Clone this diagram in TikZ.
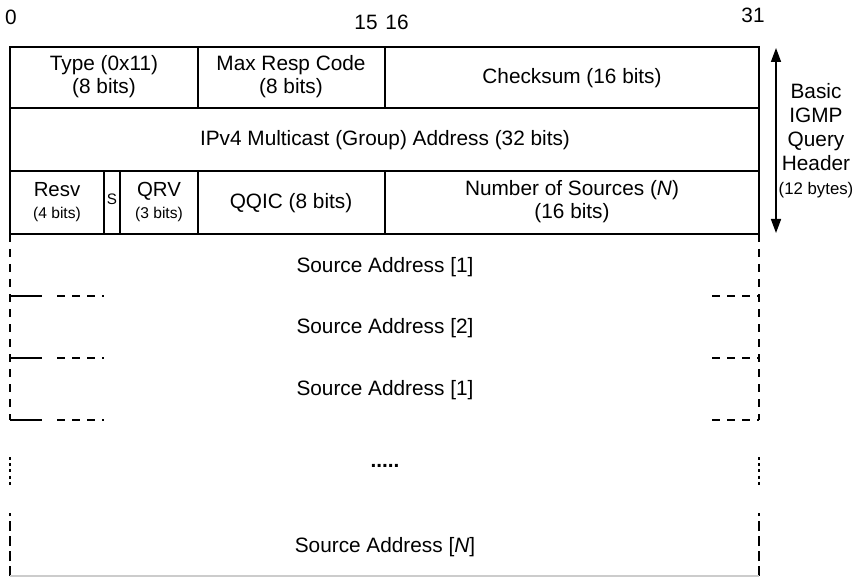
\documentclass[tikz,border=0pt]{standalone}
\usepackage{fontspec}
\setmainfont{Liberation Sans}
\usetikzlibrary{arrows.meta}

\tikzset{
  fld/.style={font=\fontsize{10.4}{11.5}\selectfont, align=center, inner sep=0.75pt},
  sfld/.style={font=\fontsize{10.2}{10.6}\selectfont, align=center, inner sep=0.75pt},
  cut/.style={line width=0.75pt, dash pattern={on 4pt off 3.5pt}},
}
\newcommand{\bitsz}{\fontsize{7.8}{9}\selectfont}

\begin{document}
\begin{tikzpicture}[x=0.5pt,y=0.5pt,yscale=-1,xscale=1]
\path[use as bounding box] (0,0) rectangle (867,577);

% Bit numbers
\node[fld] (b0) at (11,17) {0};
\node[fld] (b15) at (366,22) {15};
\node[fld] (b16) at (397,22) {16};
\node[fld] (b31) at (753,15) {31};

%Header box
\draw[line width=0.75pt] (10,47) rectangle (759,234);
\draw[line width=0.75pt] (10,108) -- (759,108) (10,171) -- (759,171);
\draw[line width=0.75pt] (198,47) -- (198,108) (385,47) -- (385,108);
\draw[line width=0.75pt] (104,171) -- (104,234) (120,171) -- (120,234)
  (198,171) -- (198,234) (385,171) -- (385,234);

% Text Node
\node[fld] (type) at (104,77) {Type (0x11)\\(8 bits)};
\node[fld] (mrc) at (291,77) {Max Resp Code\\(8 bits)};
\node[fld] (csum) at (572,78) {Checksum (16 bits)};
\node[fld] (grp) at (385,140) {IPv4 Multicast (Group) Address (32 bits)};
\node[sfld] (resv) at (57,202) {Resv\\{\bitsz (4 bits)}};
\node[font=\fontsize{7.6}{8}\selectfont, inner sep=0.5pt] (sflag) at (112,199) {S};
\node[sfld] (qrv) at (159,202) {QRV\\{\bitsz (3 bits)}};
\node[fld] (qqic) at (291,203) {QQIC (8 bits)};
\node[fld] (nsrc) at (572,202) {Number of Sources (\textit{N})\\(16 bits)};

%Source address rows
\foreach \yy in {296,358,420}{
  \draw[line width=0.75pt] (10,\yy) -- (42,\yy);
  \draw[cut] (57,\yy) -- (104,\yy);
  \draw[cut] (712,\yy) -- (759,\yy);
}
\draw[cut] (10,234) -- (10,420);
\draw[cut] (759,234) -- (759,420);
\node[fld] (src1) at (385,267) {Source Address [1]};
\node[fld] (src2) at (385,328) {Source Address [2]};
\node[fld] (src3) at (385,390) {Source Address [1]};

%Gap
\draw[line width=1.2pt, dash pattern={on 1.5pt off 1.6pt}] (10,457) -- (10,485) (759,457) -- (759,485);
\node[fld, font=\fontsize{10.4}{11.5}\selectfont\bfseries] (gap) at (385,466) {.....};

%Last source address
\draw[line width=0.75pt, dash pattern={on 5pt off 2.5pt}] (10,576) -- (10,513) (759,576) -- (759,513);
\draw[black!20, line width=0.6pt] (10,576) -- (759,576);
\node[fld] (srcN) at (385,547) {Source Address [\textit{N}]};

%Header size arrow
\coordinate (top) at (776,48);
\coordinate (bot) at (776,233);
\draw[line width=0.75pt, {Triangle[length=7pt,width=5pt]}-{Triangle[length=7pt,width=5pt]}] (top) -- (bot);
\node[fld, font=\fontsize{10.4}{12}\selectfont] (hdr) at (816,141) {Basic\\IGMP\\Query\\Header\\{\fontsize{8.4}{10}\selectfont (12 bytes)}};

\end{tikzpicture}
\end{document}
